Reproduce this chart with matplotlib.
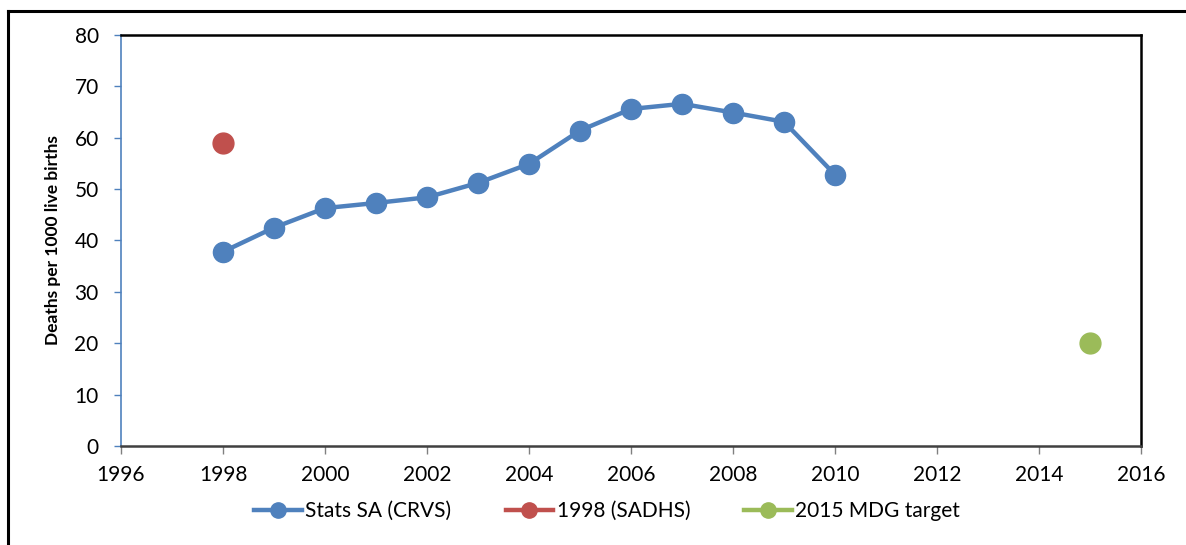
import matplotlib.pyplot as plt
from matplotlib.lines import Line2D

# Infant mortality, deaths per 1000 live births
years = [1998, 1999, 2000, 2001, 2002, 2003, 2004, 2005, 2006, 2007, 2008, 2009, 2010]
crvs = [37.8, 42.5, 46.3, 47.3, 48.4, 51.2, 54.9, 61.4, 65.6, 66.6, 64.9, 63.1, 52.8]
sadhs_year = [1998]
sadhs = [59.0]
mdg_year = [2015]
mdg = [20.0]

blue = '#4F81BD'
red = '#C0504D'
green = '#9BBB59'

plt.rcParams['font.family'] = ['Lato', 'DejaVu Sans']

fig = plt.figure(figsize=(11.86, 5.45), dpi=100)
ax = fig.add_axes([0.1020, 0.1817, 0.8601, 0.7541])

ax.plot(years, crvs, color=blue, lw=3.2, marker='o', ms=14.5, label='Stats SA (CRVS)')
ax.plot(sadhs_year, sadhs, color=red, lw=3.2, marker='o', ms=15, label='1998 (SADHS)')
ax.plot(mdg_year, mdg, color=green, lw=3.2, marker='o', ms=15, label='2015 MDG target')

ax.set_xlim(1996, 2016)
ax.set_ylim(0, 80)
ax.set_xticks(range(1996, 2017, 2))
ax.set_yticks(range(0, 81, 10))

ax.spines['left'].set_color(blue)
ax.spines['left'].set_linewidth(1.2)
ax.spines['bottom'].set_color('#404040')
ax.spines['bottom'].set_linewidth(1.8)
ax.spines['top'].set_color('black')
ax.spines['top'].set_linewidth(1.8)
ax.spines['right'].set_color('black')
ax.spines['right'].set_linewidth(1.8)

ax.tick_params(axis='y', direction='out', length=5, width=1, color=blue,
               labelsize=15, pad=11)
ax.tick_params(axis='x', direction='out', length=6, width=1, color='#808080',
               labelsize=15, pad=8)
ax.set_ylabel('Deaths per 1000 live births', fontsize=12.5, fontweight='bold', labelpad=10)

handles = [Line2D([], [], color=c, lw=3.2, marker='o', ms=11) for c in (blue, red, green)]
fig.legend(handles, ['Stats SA (CRVS)', '1998 (SADHS)', '2015 MDG target'],
           loc='center', bbox_to_anchor=(0.512, 0.062), ncol=3, frameon=False,
           fontsize=15, handlelength=2.3, handletextpad=0.15, columnspacing=2.6)

# outer frame (top and left edges only)
fig.add_artist(Line2D([8 / 1186, 1.0], [1 - 11 / 545, 1 - 11 / 545],
                      transform=fig.transFigure, color='black', lw=2.2))
fig.add_artist(Line2D([8 / 1186, 8 / 1186], [0.0, 1 - 11 / 545],
                      transform=fig.transFigure, color='black', lw=2.2))

fig.savefig('out.png', dpi=100, facecolor='white')
